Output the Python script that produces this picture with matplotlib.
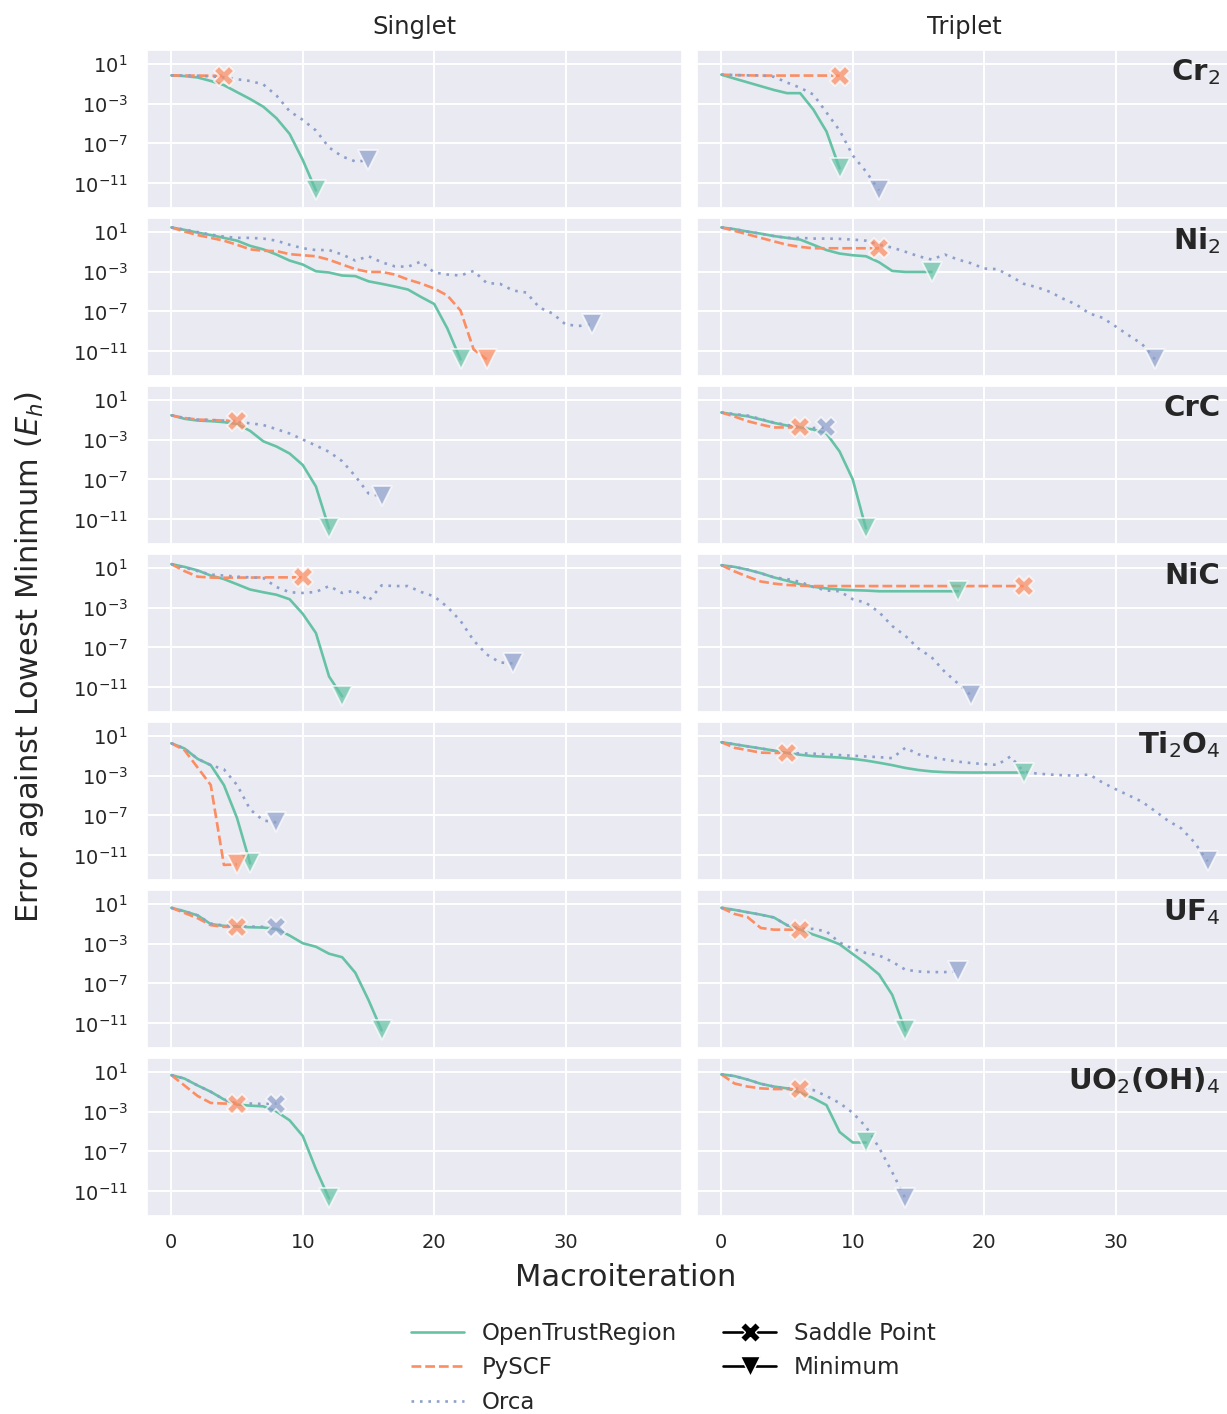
import numpy as np
import matplotlib
matplotlib.use("Agg")
import matplotlib.pyplot as plt
import seaborn as sns
from matplotlib.lines import Line2D
from matplotlib.ticker import FixedLocator, LogFormatterSciNotation, NullLocator

sns.set_theme(style="darkgrid")
plt.rcParams["font.family"] = ["DejaVu Sans"]

# ---------------- data (log10 of error in Eh, x = macroiteration 0..n) ----------------
MOLECULES = ["Cr$_2$", "Ni$_2$", "CrC", "NiC", "Ti$_2$O$_4$", "UF$_4$", "UO$_2$(OH)$_4$"]
SPINS = ["Singlet", "Triplet"]
METHODS = ["OpenTrustRegion", "PySCF", "Orca"]

# Cr2
cr2_s_otr = [-0.18, -0.25, -0.39, -0.74, -1.16, -1.86, -2.55, -3.32, -4.47, -6.04, -8.65, -11.7]
cr2_s_pyscf = [-0.18, -0.2, -0.2, -0.22, -0.22]
cr2_s_orca = [-0.18, -0.2, -0.22, -0.28, -0.39, -0.57, -0.74, -1.09, -2.2, -3.77, -4.64, -5.7,
              -7.4, -8.3, -8.8, -8.7]
cr2_t_otr = [-0.11, -0.5, -0.88, -1.26, -1.64, -1.96, -1.96, -3.6, -5.8, -9.5]
cr2_t_pyscf = [-0.11, -0.15, -0.18, -0.2, -0.2, -0.2, -0.2, -0.2, -0.2, -0.22]
cr2_t_orca = [-0.11, -0.15, -0.18, -0.18, -0.32, -0.9, -1.42, -2.1, -3.9, -5.7, -8.2, -9.8, -11.7]

# Ni2
ni2_s_otr = [1.42, 1.17, 0.9, 0.65, 0.37, 0.09, -0.43, -0.78, -1.3, -1.9, -2.3, -2.97, -3.1,
             -3.4, -3.46, -3.98, -4.23, -4.5, -4.8, -5.55, -6.25, -8.7, -11.8]
ni2_s_pyscf = [1.42, 1.0, 0.65, 0.37, 0.09, -0.32, -0.78, -0.92, -0.95, -1.26, -1.37, -1.47,
               -1.82, -2.3, -2.76, -3.04, -3.04, -3.3, -3.8, -4.2, -4.7, -5.4, -6.9, -10.8, -11.8]
ni2_s_orca = [1.42, 1.2, 0.95, 0.7, 0.5, 0.37, 0.37, 0.3, 0.09, -0.32, -0.67, -0.85, -0.85,
              -1.3, -1.9, -1.47, -2.07, -2.48, -2.52, -2.0, -3.1, -3.3, -3.4, -2.94, -4.16,
              -4.23, -4.9, -5.1, -6.6, -7.2, -8.3, -8.45, -8.3]
ni2_t_otr = [1.42, 1.24, 1.0, 0.79, 0.55, 0.37, 0.2, -0.32, -0.85, -1.2, -1.37, -1.47, -2.07,
             -2.94, -3.04, -3.04, -3.04]
ni2_t_pyscf = [1.42, 1.07, 0.72, 0.37, 0.02, -0.32, -0.53, -0.67, -0.67, -0.67, -0.67, -0.67, -0.67]
ni2_t_orca = [1.42, 1.24, 1.0, 0.79, 0.55, 0.37, 0.37, 0.3, 0.3, 0.27, 0.2, 0.09, -0.32, -0.6,
              -1.02, -1.47, -1.8, -1.3, -1.8, -2.17, -2.7, -2.76, -3.46, -4.23, -4.57, -5.03,
              -5.72, -6.3, -7.2, -7.63, -8.5, -9.4, -10.25, -11.8]

# CrC
crc_s_otr = [-0.57, -0.92, -1.1, -1.16, -1.26, -1.44, -2.14, -3.18, -3.7, -4.4, -5.55, -7.7, -11.9]
crc_s_pyscf = [-0.57, -0.85, -1.0, -1.05, -1.1, -1.16]
crc_s_orca = [-0.57, -0.85, -1.0, -1.05, -1.1, -1.26, -1.37, -1.55, -1.96, -2.4, -3.0, -3.6,
              -4.23, -5.17, -6.67, -8.4, -8.7]
crc_t_otr = [-0.29, -0.5, -0.67, -0.99, -1.33, -1.6, -1.79, -2.0, -2.4, -4.2, -7.0, -11.9]
crc_t_pyscf = [-0.29, -0.7, -1.16, -1.5, -1.79, -1.79, -1.79]
crc_t_orca = [-0.29, -0.45, -0.6, -0.95, -1.3, -1.55, -1.75, -1.85, -1.79]

# NiC
nic_s_otr = [1.35, 1.07, 0.72, 0.2, -0.15, -0.67, -1.2, -1.47, -1.72, -2.17, -3.63, -5.55, -9.9, -11.9]
nic_s_pyscf = [1.35, 0.65, 0.09, 0.0, -0.02, 0.0, 0.0, 0.02, 0.02, 0.02, 0.02]
nic_s_orca = [1.35, 1.0, 0.65, 0.3, 0.2, 0.09, 0.02, -0.05, -0.95, -1.47, -1.54, -1.44, -0.85,
              -1.54, -1.3, -2.34, -0.78, -0.85, -0.85, -1.44, -1.89, -2.94, -4.33, -6.3, -7.7,
              -8.5, -8.6]
nic_t_otr = [1.24, 1.07, 0.79, 0.44, 0.02, -0.32, -0.67, -0.92, -1.09, -1.2, -1.26, -1.3, -1.37,
             -1.37, -1.37, -1.37, -1.37, -1.37, -1.37]
nic_t_pyscf = [1.24, 0.62, 0.09, -0.39, -0.6, -0.74, -0.81, -0.85, -0.85, -0.85, -0.85, -0.85,
               -0.85, -0.85, -0.85, -0.85, -0.85, -0.85, -0.85, -0.85, -0.85, -0.85, -0.85, -0.85]
nic_t_orca = [1.24, 1.07, 0.79, 0.44, 0.02, -0.15, -0.43, -0.95, -1.3, -1.37, -2.17, -2.52,
              -3.46, -4.85, -5.83, -7.11, -7.98, -9.44, -10.6, -11.8]

# Ti2O4
ti2o4_s_otr = [0.23, -0.29, -1.33, -1.96, -3.95, -7.26, -11.8]
ti2o4_s_pyscf = [0.23, -0.46, -2.2, -3.95, -11.95, -11.9]
ti2o4_s_orca = [0.23, -0.29, -1.33, -1.96, -2.38, -3.95, -6.4, -7.5, -7.7]
ti2o4_t_otr = [0.34, 0.13, -0.08, -0.29, -0.5, -0.74, -0.92, -1.06, -1.13, -1.2, -1.33, -1.5,
               -1.72, -1.96, -2.24, -2.45, -2.59, -2.66, -2.69, -2.7, -2.7, -2.7, -2.7, -2.7]
ti2o4_t_pyscf = [0.34, -0.22, -0.46, -0.71, -0.74, -0.74]
ti2o4_t_orca = [0.34, 0.13, -0.08, -0.29, -0.5, -0.74, -0.78, -0.81, -0.88, -0.95, -1.02, -1.09,
                -1.16, -1.26, -0.22, -0.88, -1.16, -1.4, -1.61, -1.75, -1.86, -1.93, -1.09,
                -2.62, -2.8, -2.9, -2.97, -3.0, -2.9, -3.7, -4.37, -4.99, -5.62, -6.56, -7.54,
                -8.3, -9.7, -11.6]

# UF4
uf4_s_otr = [0.58, 0.23, -0.18, -1.05, -1.23, -1.3, -1.37, -1.4, -1.54, -2.2, -2.97, -3.32,
             -4.02, -4.37, -5.93, -8.65, -11.7]
uf4_s_pyscf = [0.58, 0.06, -0.46, -1.16, -1.33, -1.33]
uf4_s_orca = [0.58, 0.23, -0.18, -1.0, -1.2, -1.26, -1.3, -1.33, -1.33]
uf4_t_otr = [0.58, 0.37, 0.13, -0.11, -0.39, -1.16, -1.61, -2.1, -2.55, -3.08, -4.05, -5.0, -6.1,
             -8.13, -11.7]
uf4_t_pyscf = [0.58, -0.04, -0.36, -1.44, -1.61, -1.61, -1.61]
uf4_t_orca = [0.58, 0.37, 0.13, -0.11, -0.39, -1.16, -1.5, -1.54, -1.79, -2.9, -3.53, -3.95,
              -4.19, -4.82, -5.62, -5.8, -5.86, -5.86, -5.76]

# UO2(OH)4
uo2_s_otr = [0.65, 0.3, -0.39, -1.02, -1.79, -2.31, -2.41, -2.48, -3.0, -3.88, -5.45, -8.76, -11.7]
uo2_s_pyscf = [0.65, -0.39, -1.44, -2.14, -2.2, -2.2]
uo2_s_orca = [0.65, 0.3, -0.39, -1.02, -1.79, -2.2, -2.2, -2.24, -2.2]
uo2_t_otr = [0.72, 0.55, 0.2, -0.22, -0.5, -0.68, -1.1, -1.66, -2.36, -5.05, -6.1, -6.1]
uo2_t_pyscf = [0.72, -0.19, -0.5, -0.68, -0.75, -0.75, -0.75]
uo2_t_orca = [0.72, 0.55, 0.2, -0.22, -0.5, -0.68, -0.72, -0.85, -1.45, -2.15, -3.13, -4.52,
              -6.62, -9.07, -11.7]

# end-point type of each run: "min" = Minimum, "sad" = Saddle Point  (order OTR, PySCF, Orca)
end_types = [
    [["min", "sad", "min"], ["min", "sad", "min"]],   # Cr2
    [["min", "min", "min"], ["min", "sad", "min"]],   # Ni2
    [["min", "sad", "min"], ["min", "sad", "sad"]],   # CrC
    [["min", "sad", "min"], ["min", "sad", "min"]],   # NiC
    [["min", "min", "min"], ["min", "sad", "min"]],   # Ti2O4
    [["min", "sad", "sad"], ["min", "sad", "min"]],   # UF4
    [["min", "sad", "sad"], ["min", "sad", "min"]],   # UO2(OH)4
]

series = [
    [[cr2_s_otr, cr2_s_pyscf, cr2_s_orca], [cr2_t_otr, cr2_t_pyscf, cr2_t_orca]],
    [[ni2_s_otr, ni2_s_pyscf, ni2_s_orca], [ni2_t_otr, ni2_t_pyscf, ni2_t_orca]],
    [[crc_s_otr, crc_s_pyscf, crc_s_orca], [crc_t_otr, crc_t_pyscf, crc_t_orca]],
    [[nic_s_otr, nic_s_pyscf, nic_s_orca], [nic_t_otr, nic_t_pyscf, nic_t_orca]],
    [[ti2o4_s_otr, ti2o4_s_pyscf, ti2o4_s_orca], [ti2o4_t_otr, ti2o4_t_pyscf, ti2o4_t_orca]],
    [[uf4_s_otr, uf4_s_pyscf, uf4_s_orca], [uf4_t_otr, uf4_t_pyscf, uf4_t_orca]],
    [[uo2_s_otr, uo2_s_pyscf, uo2_s_orca], [uo2_t_otr, uo2_t_pyscf, uo2_t_orca]],
]

# ---------------- styling ----------------
colors = ["#66c2a5", "#fc8d62", "#8da0cb"]
LW = 1.9
dashes = [None, (3.7, 1.5), (1.0, 2.2)]
end_marker = {"min": "v", "sad": "X"}

W, H = 1227, 1414
fig = plt.figure(figsize=(W / 100, H / 100), dpi=100)

col_left = [147, 697]
ax_w = 535
row_top0 = 50.4
row_pitch = 168
ax_h = 158

yticks = [1e1, 1e-3, 1e-7, 1e-11]
ylim = (10 ** -13.5, 10 ** 2.32)
xlim = (-1.85, 38.85)

axes = []
for i, mol in enumerate(MOLECULES):
    row = []
    for j in range(2):
        top = row_top0 + row_pitch * i
        ax = fig.add_axes([col_left[j] / W, 1 - (top + ax_h) / H, ax_w / W, ax_h / H])
        ax.set_yscale("log")
        ax.set_ylim(*ylim)
        ax.set_xlim(*xlim)
        ax.yaxis.set_major_locator(FixedLocator(yticks))
        ax.yaxis.set_major_formatter(LogFormatterSciNotation())
        ax.yaxis.set_minor_locator(NullLocator())
        ax.set_xticks([0, 10, 20, 30])
        ax.tick_params(axis="both", labelsize=14, length=0, colors="#262626")
        ax.tick_params(axis="y", pad=14)
        ax.tick_params(axis="x", pad=12)
        ax.grid(True, color="white", linewidth=1.4)
        if j == 1:
            ax.tick_params(axis="y", labelleft=False)
        if i < len(MOLECULES) - 1:
            ax.tick_params(axis="x", labelbottom=False)

        runs = series[i][j]
        for k in range(3):
            yv = 10.0 ** np.asarray(runs[k])
            xv = np.arange(len(yv))
            ln, = ax.plot(xv, yv, color=colors[k], lw=LW, zorder=2 + k * 0.1)
            if dashes[k] is not None:
                ln.set_dashes(dashes[k])
        for k in range(3):
            yv = 10.0 ** np.asarray(runs[k])
            ax.plot([len(yv) - 1], [yv[-1]], linestyle="none",
                    marker=end_marker[end_types[i][j][k]], ms=15,
                    color=colors[k], alpha=0.72, mec="white", mew=1.3, zorder=4)
        if j == 1:
            ax.text(0.978, 0.955, mol, transform=ax.transAxes, ha="right", va="top",
                    fontsize=21, fontweight="bold", color="#262626")
        row.append(ax)
    axes.append(row)

# column titles
for j, sp in enumerate(SPINS):
    fig.text((col_left[j] + ax_w / 2) / W, 1 - 27 / H, sp, ha="center", va="center",
             fontsize=17.5, color="#262626")

fig.text(30 / W, 1 - 657 / H, r"Error against Lowest Minimum ($E_h$)", rotation=90,
         ha="center", va="center", fontsize=22, color="#262626")
fig.text(626 / W, 1 - 1278 / H, "Macroiteration", ha="center", va="center",
         fontsize=22, color="#262626")

handles = []
for k in range(3):
    h = Line2D([0], [0], color=colors[k], lw=LW)
    if dashes[k] is not None:
        h.set_dashes(dashes[k])
    handles.append(h)
handles.append(Line2D([0], [0], color="black", lw=LW, marker="X", ms=14, mec="white", mew=1.0))
handles.append(Line2D([0], [0], color="black", lw=LW, marker="v", ms=14, mec="white", mew=1.0))
labels = METHODS + ["Saddle Point", "Minimum"]
fig.legend(handles, labels, loc="upper center", bbox_to_anchor=(673.5 / W, 1 - 1301 / H),
           ncol=2, frameon=False, fontsize=16.5, handlelength=2.3, handletextpad=0.8,
           columnspacing=2.0, labelspacing=0.5, borderpad=0.4)

fig.savefig("out.png", dpi=100, facecolor="white")
